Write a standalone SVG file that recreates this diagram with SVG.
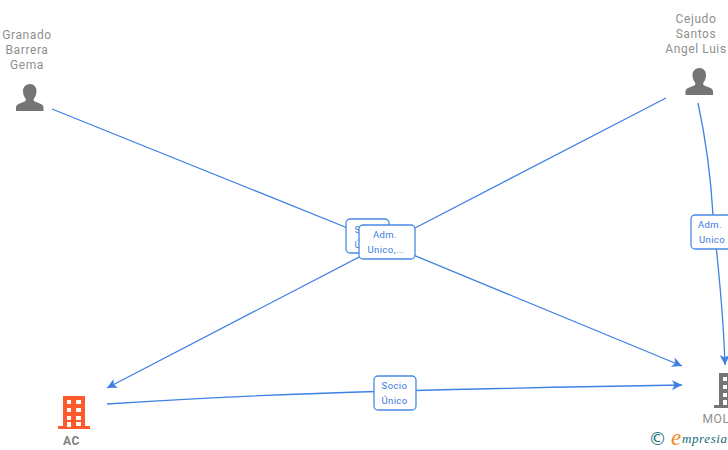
<svg xmlns="http://www.w3.org/2000/svg" width="728" height="450" viewBox="0 0 728 450">
<style>
.n{font:12px Roboto,"Liberation Sans",sans-serif;fill:#8f8f8f;text-anchor:middle;letter-spacing:.6px}
.b{font:bold 12px Roboto,"Liberation Sans",sans-serif;fill:#7f7f7f;text-anchor:middle;letter-spacing:.6px}
.c{fill:none;stroke:#3f82e4;stroke-width:1.3}
.lb{fill:#fff;stroke:#4a8ae6;stroke-width:1.3}
.lt{font:9.5px Roboto,"Liberation Sans",sans-serif;fill:#3a7bdc;text-anchor:middle;letter-spacing:.4px}
.p{fill:#757575}
</style>
<defs>
<marker id="a" viewBox="0 0 10 10" refX="10" refY="5" markerWidth="10" markerHeight="10" markerUnits="userSpaceOnUse" orient="auto"><path d="M0 0L10 5L0 10L2.5 5Z" fill="#3f82e4"/></marker>
<path id="person" d="M14 0c4 0 6.500 3 6.500 7 0 3-1 5.500-2.500 7.500-.6 1-.5 2.500.8 3.100l6.200 2.400c1.700.7 2.500 2 2.500 3.500V27H0v-3.500c0-1.500.8-2.800 2.500-3.500l6.200-2.400c1.300-.6 1.400-2.100.8-3.100C8 12.500 7 10 7 7c0-4 3-7 7-7z"/>
</defs>
<g id="connectors">
<path class="c" d="M52 109L360 233Q388 244 682 366" marker-end="url(#a)"/>
<path class="c" d="M666 98L415 228L107 388" marker-end="url(#a)"/>
<path class="c" d="M107 404Q240 395 395 391T682 385" marker-end="url(#a)"/>
<path class="c" d="M698 103C706 140 711 180 713 215C716 250 723 300 725 365" marker-end="url(#a)"/>
</g>
<g id="node-granado">
<text class="n" x="27" y="39">Granado</text><text class="n" x="27" y="54">Barrera</text><text class="n" x="27" y="69">Gema</text>
<use href="#person" class="p" x="16" y="84"/>
</g>
<g id="node-cejudo">
<text class="n" x="696" y="23">Cejudo</text><text class="n" x="696" y="38">Santos</text><text class="n" x="696" y="53">Angel Luis</text>
<use href="#person" class="p" x="685.500" y="68"/>
</g>
<g id="node-ac">
<path fill="#ff5a2b" fill-rule="evenodd" d="M63 396H85V426H90V429H58V426H63ZM67 400V404H71V400ZM76 400V404H81V400ZM67 408V412H71V408ZM76 408V412H81V408ZM67 416V420H71V416ZM76 416V420H81V416ZM67 422V427H71V422ZM76 422V426H81V422Z"/>
<text class="b" x="71.500" y="445">AC</text>
</g>
<g id="node-mol">
<path fill="#757575" fill-rule="evenodd" d="M719 373H741V405H746V408H714V405H719ZM723 377V381H727V377ZM723 385V389H727V385ZM723 393V397H727V393ZM723 400V405H727V400Z"/>
<text class="n" x="716" y="423">MOL</text>
</g>
<g id="label-socio-1">
<rect class="lb" x="346" y="219" width="43" height="34" rx="4"/>
<text class="lt" x="367.500" y="233">Socio</text><text class="lt" x="367.500" y="248">Único</text>
</g>
<g id="label-adm-1">
<rect class="lb" x="359" y="225" width="56" height="34" rx="4"/>
<text class="lt" x="385" y="238">Adm.</text><text class="lt" x="386" y="253">Unico,...</text>
</g>
<g id="label-adm-2">
<rect class="lb" x="691" y="215" width="43" height="34" rx="4"/>
<text class="lt" x="710" y="228">Adm.</text><text class="lt" x="712" y="243">Unico</text>
</g>
<g id="label-socio-2">
<rect class="lb" x="374" y="376" width="42" height="34" rx="4"/>
<text class="lt" x="394.500" y="389">Socio</text><text class="lt" x="394.500" y="404">Único</text>
</g>
<g id="logo">
<rect x="646" y="424" width="82" height="26" fill="#fff"/>
<text x="657.500" y="445" style="font:18px 'DejaVu Sans',sans-serif;fill:#1f6f80;text-anchor:middle">©</text>
<text x="671" y="445" style="font:italic 23px 'Liberation Serif',serif;fill:#f08a1d">e</text>
<text x="682" y="443" style="font:italic 13px 'Liberation Serif',serif;fill:#17677a;letter-spacing:.6px">mpresia</text>
</g>
</svg>
